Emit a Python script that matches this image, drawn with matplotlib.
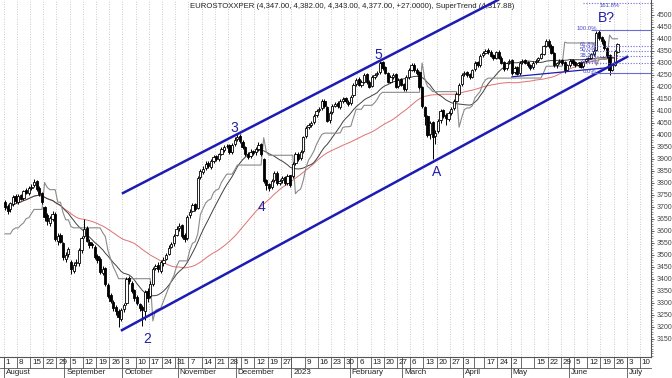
import numpy as np
import pandas as pd
import matplotlib
matplotlib.use("Agg")
import matplotlib.pyplot as plt
from matplotlib.transforms import blended_transform_factory

plt.rcParams["font.family"] = ["Liberation Sans", "DejaVu Sans"]

# daily OHLC, Aug 1 2022 .. Jun 27 2023 (one line per week)
opens = [
    3720, 3705, 3690, 3712, 3745, 3722, 3748, 3738, 3770, 3758,
    3778, 3790, 3808, 3780, 3758, 3700, 3665, 3635, 3650, 3672,
    3560, 3585, 3550, 3485, 3505, 3470, 3435, 3465, 3468, 3522,
    3580, 3612, 3555, 3545, 3535, 3495, 3485, 3425, 3445, 3375,
    3335, 3305, 3285, 3268, 3235, 3275, 3300, 3405, 3385, 3355,
    3325, 3295, 3285, 3265, 3350, 3330, 3378, 3445, 3458, 3435,
    3468, 3485, 3505, 3535, 3548, 3585, 3612, 3625, 3585, 3570,
    3665, 3685, 3712, 3695, 3825, 3845, 3862, 3885, 3868, 3892,
    3912, 3898, 3922, 3938, 3952, 3958, 3928, 3962, 3982, 3995,
    3972, 3948, 3922, 3912, 3932, 3928, 3942, 3962, 3900, 3812,
    3795, 3782, 3812, 3842, 3798, 3812, 3825, 3798, 3832,
    3830, 3882, 3922, 3902, 3932, 3995, 4032, 4042, 4052, 4082,
    4102, 4112, 4142, 4118, 4062, 4095, 4122, 4132, 4118, 4142,
    4152, 4138, 4132, 4165, 4212, 4232, 4208, 4222, 4252, 4222,
    4205, 4242, 4252, 4262, 4302, 4282, 4258, 4222, 4242, 4252,
    4202, 4232, 4212, 4192, 4242, 4272, 4292, 4272, 4262, 4200,
    4115, 4078, 4005, 4052, 3995, 4015, 4062, 4102, 4082, 4068,
    4092, 4112, 4142, 4172, 4212, 4252, 4262, 4252, 4242,
    4275, 4302, 4292, 4332, 4342, 4352, 4347, 4332, 4322,
    4347, 4322, 4302, 4277, 4302, 4312, 4262, 4282, 4257,
    4302, 4312, 4302, 4292, 4282, 4302, 4312, 4322, 4337, 4372,
    4392, 4372, 4342, 4292, 4302, 4312, 4302, 4272, 4292, 4312,
    4302, 4292, 4302, 4287, 4307, 4317, 4322, 4337, 4352, 4428,
    4408, 4392, 4362, 4332, 4272, 4292, 4347,
]
highs = [
    3728, 3712, 3722, 3750, 3752, 3752, 3755, 3772, 3778, 3788,
    3795, 3815, 3812, 3788, 3762, 3705, 3675, 3662, 3685, 3680,
    3592, 3590, 3556, 3512, 3535, 3478, 3470, 3482, 3528, 3578,
    3648, 3620, 3568, 3555, 3540, 3505, 3490, 3452, 3450, 3382,
    3342, 3312, 3292, 3275, 3280, 3300, 3410, 3412, 3392, 3360,
    3332, 3302, 3292, 3352, 3362, 3392, 3448, 3462, 3470, 3478,
    3492, 3508, 3540, 3552, 3588, 3620, 3632, 3630, 3590, 3668,
    3690, 3718, 3718, 3830, 3858, 3872, 3890, 3892, 3898, 3918,
    3918, 3925, 3948, 3958, 3962, 3962, 3968, 3990, 4005, 4002,
    3978, 3952, 3928, 3940, 3938, 3948, 3972, 3968, 3905, 3815,
    3800, 3818, 3850, 3848, 3818, 3830, 3828, 3838, 3835,
    3888, 3928, 3930, 3938, 3995, 4038, 4050, 4058, 4088, 4108,
    4118, 4148, 4150, 4122, 4098, 4128, 4138, 4140, 4148, 4158,
    4160, 4145, 4168, 4218, 4238, 4240, 4228, 4258, 4256, 4228,
    4248, 4258, 4268, 4308, 4308, 4288, 4262, 4248, 4258, 4256,
    4238, 4238, 4218, 4248, 4278, 4298, 4298, 4278, 4266, 4205,
    4122, 4085, 4060, 4058, 4020, 4068, 4108, 4108, 4090, 4098,
    4118, 4148, 4178, 4218, 4258, 4266, 4268, 4258, 4276,
    4306, 4308, 4338, 4348, 4358, 4362, 4352, 4338, 4350,
    4352, 4328, 4308, 4305, 4318, 4315, 4286, 4288, 4306,
    4318, 4318, 4308, 4296, 4306, 4316, 4326, 4340, 4376, 4398,
    4400, 4378, 4346, 4305, 4316, 4318, 4306, 4295, 4316, 4318,
    4306, 4305, 4306, 4310, 4320, 4326, 4340, 4356, 4432, 4438,
    4412, 4398, 4366, 4336, 4296, 4355, 4382,
]
lows = [
    3688, 3672, 3680, 3705, 3715, 3712, 3728, 3730, 3752, 3750,
    3770, 3782, 3768, 3745, 3712, 3640, 3625, 3622, 3640, 3560,
    3542, 3548, 3478, 3470, 3492, 3420, 3425, 3452, 3455, 3510,
    3572, 3552, 3530, 3528, 3482, 3465, 3420, 3418, 3372, 3322,
    3298, 3268, 3250, 3200, 3225, 3262, 3292, 3380, 3340, 3310,
    3292, 3268, 3205, 3230, 3305, 3322, 3370, 3438, 3430, 3425,
    3455, 3478, 3498, 3528, 3538, 3578, 3600, 3572, 3555, 3562,
    3655, 3678, 3682, 3690, 3815, 3838, 3855, 3862, 3860, 3885,
    3892, 3890, 3915, 3930, 3945, 3922, 3920, 3955, 3975, 3968,
    3942, 3912, 3900, 3905, 3918, 3918, 3935, 3912, 3800, 3770,
    3765, 3775, 3805, 3792, 3790, 3800, 3792, 3792, 3785,
    3822, 3875, 3892, 3895, 3925, 3988, 4025, 4035, 4045, 4075,
    4095, 4105, 4112, 4055, 4050, 4088, 4115, 4112, 4110, 4135,
    4132, 4122, 4125, 4160, 4205, 4202, 4200, 4215, 4212, 4195,
    4198, 4235, 4245, 4255, 4272, 4252, 4215, 4215, 4235, 4195,
    4195, 4205, 4185, 4185, 4235, 4265, 4262, 4250, 4192, 4112,
    4040, 3990, 3985, 3900, 3962, 4008, 4050, 4072, 4040, 4060,
    4085, 4105, 4138, 4165, 4205, 4245, 4242, 4232, 4236,
    4268, 4282, 4285, 4326, 4336, 4338, 4324, 4312, 4316,
    4315, 4295, 4268, 4270, 4295, 4248, 4255, 4250, 4250,
    4296, 4294, 4285, 4272, 4275, 4295, 4305, 4316, 4332, 4365,
    4362, 4335, 4282, 4280, 4295, 4290, 4258, 4265, 4285, 4292,
    4282, 4286, 4280, 4280, 4300, 4310, 4315, 4330, 4348, 4396,
    4380, 4352, 4322, 4250, 4265, 4288, 4343,
]
closes = [
    3700, 3685, 3715, 3740, 3725, 3745, 3735, 3765, 3760, 3780,
    3785, 3805, 3775, 3755, 3720, 3660, 3640, 3655, 3670, 3565,
    3580, 3555, 3490, 3500, 3525, 3440, 3460, 3470, 3520, 3570,
    3610, 3560, 3540, 3540, 3490, 3480, 3430, 3440, 3380, 3330,
    3310, 3280, 3265, 3240, 3270, 3290, 3400, 3390, 3350, 3320,
    3300, 3280, 3270, 3345, 3320, 3380, 3440, 3455, 3440, 3470,
    3480, 3500, 3530, 3545, 3580, 3610, 3620, 3580, 3565, 3660,
    3680, 3710, 3690, 3820, 3850, 3860, 3880, 3870, 3890, 3910,
    3900, 3920, 3940, 3950, 3955, 3930, 3960, 3980, 3990, 3975,
    3950, 3920, 3910, 3930, 3925, 3940, 3960, 3920, 3810, 3790,
    3780, 3810, 3840, 3800, 3810, 3820, 3800, 3830, 3790,
    3880, 3920, 3900, 3930, 3990, 4030, 4040, 4050, 4080, 4100,
    4110, 4140, 4120, 4060, 4090, 4120, 4130, 4120, 4140, 4150,
    4140, 4130, 4160, 4210, 4230, 4210, 4220, 4250, 4220, 4200,
    4240, 4250, 4260, 4300, 4280, 4260, 4220, 4240, 4250, 4200,
    4230, 4210, 4190, 4240, 4270, 4290, 4270, 4260, 4200, 4120,
    4080, 4000, 4050, 3990, 4010, 4060, 4100, 4080, 4070, 4090,
    4110, 4140, 4170, 4210, 4250, 4260, 4250, 4240, 4270,
    4300, 4290, 4330, 4340, 4350, 4345, 4330, 4320, 4345,
    4320, 4300, 4275, 4300, 4310, 4260, 4280, 4255, 4300,
    4310, 4300, 4290, 4280, 4300, 4310, 4320, 4335, 4370, 4390,
    4370, 4340, 4290, 4300, 4310, 4300, 4270, 4290, 4310, 4300,
    4290, 4300, 4285, 4305, 4315, 4320, 4335, 4350, 4425, 4405,
    4390, 4360, 4330, 4270, 4290, 4350, 4377,
]

holidays = ["2022-12-26", "2023-04-07", "2023-04-10", "2023-05-01"]
hidden_week_labels = ["2023-01-02", "2023-04-11", "2023-05-08"]
month_names = ["August", "September", "October", "November", "December", "2023",
               "February", "March", "April", "May", "June", "July"]

# channel lines and labels (index, price)
upper_chan = ([44.7, 186.7], [3758, 4562])
lower_chan = ([44.3, 235.6], [3187, 4325])
small_line = ([192, 227.3], [4242, 4279])
waves = [("2", 53.8, 3150), ("3", 86.7, 4029), ("4", 97.3, 3700),
         ("5", 141.3, 4333), ("A", 163.6, 3846), ("B?", 227.7, 4487)]

# trading calendar
days = pd.bdate_range("2022-08-01", "2023-07-14")
days = days[~days.isin(pd.to_datetime(holidays))]
n = len(closes)
x = np.arange(n)

df = pd.DataFrame({"o": opens, "h": highs, "l": lows, "c": closes})
sma20 = df.c.rolling(20, min_periods=1).mean()
sma50 = df.c.rolling(50, min_periods=1).mean()

# SuperTrend (10, 3)
tr = pd.concat([df.h - df.l, (df.h - df.c.shift()).abs(), (df.l - df.c.shift()).abs()], axis=1).max(axis=1)
atr = tr.ewm(alpha=1 / 10, adjust=False).mean()
hl2 = (df.h + df.l) / 2
ub = (hl2 + 3 * atr).values
lb = (hl2 - 3 * atr).values
fu, fl = ub.copy(), lb.copy()
st = np.zeros(n)
trend = 1
for i in range(n):
    if i > 0:
        fu[i] = ub[i] if (ub[i] < fu[i - 1] or closes[i - 1] > fu[i - 1]) else fu[i - 1]
        fl[i] = lb[i] if (lb[i] > fl[i - 1] or closes[i - 1] < fl[i - 1]) else fl[i - 1]
        if trend == 1 and closes[i] < fl[i]:
            trend = -1
        elif trend == -1 and closes[i] > fu[i]:
            trend = 1
    st[i] = fl[i] if trend == 1 else fu[i]

fig = plt.figure(figsize=(6.72, 3.78), dpi=100)
ax = fig.add_axes([0, 1 - 357 / 378, 651 / 672, 357 / 378])
x0, x1 = -1.9, 244.7
y0, y1 = 3075, 4562
ax.set_xlim(x0, x1)
ax.set_ylim(y0, y1)

# week positions
s = pd.Series(np.arange(len(days)), index=days)
week_start = s.groupby(days.to_period("W")).min()
month_start = s.groupby(days.to_period("M")).min()
week_dates = days[week_start.values]

ax.vlines(week_start.values - 0.5, y0, y1, colors="#b8b8b8", linestyles=(0, (1, 2)), lw=0.6, zorder=0)

# indicators
ax.plot(x, sma50, color="#e07070", lw=0.7, zorder=2)
ax.plot(x, sma20, color="#404040", lw=0.7, zorder=2)
ax.plot(x, st, color="#8a8a8a", lw=0.8, zorder=2)

# candles
o = np.array(opens); c = np.array(closes)
ax.vlines(x, lows, highs, colors="black", lw=0.7, zorder=3)
body = np.maximum(np.abs(c - o), 2)
cols = np.where(c >= o, "white", "black")
ax.bar(x, body, bottom=np.minimum(o, c), width=0.85, color=cols, edgecolor="black", lw=0.6, zorder=4)

# channel
ax.plot(*upper_chan, color="#1c1cb4", lw=1.8, zorder=5)
ax.plot(*lower_chan, color="#1c1cb4", lw=1.8, zorder=5)
ax.plot(*small_line, color="#1c1cb4", lw=0.9, zorder=5)
for t, xi, yi in waves:
    ax.text(xi, yi, t, color="#2020a8", fontsize=10, ha="center", va="center", zorder=6)

# fibonacci
fib_lo = lows[212]
fib_hi = max(highs[212:226])
for lev, lab in [(0, "0.0%"), (0.236, "23.6%"), (0.382, "38.2%"), (0.5, "50.0%"),
                 (0.618, "61.8%"), (1.0, "100.0%"), (1.618, "161.8%")]:
    v = fib_lo + lev * (fib_hi - fib_lo)
    solid = lev in (0, 1.0)
    ax.hlines(v, 219 if not solid else 222, x1, colors="#6a6ad8",
              linestyles="-" if solid else (0, (1, 1.5)), lw=0.8, zorder=5)
    tx = 233 if lev == 1.618 else 224.2
    ty = v - 9 if lev == 1.618 else v + 6
    ax.text(tx, ty, lab, color="#4848c8", fontsize=4.3, ha="right", va="center", zorder=6)

ax.text(190 / 651, 1 - 6 / 357,
        "EUROSTOXXPER (4,347.00, 4,382.00, 4,343.00, 4,377.00, +27.0000), SuperTrend (4,317.88)",
        transform=ax.transAxes, fontsize=5.6, va="center", ha="left", color="#222222")

# right axis
ax.yaxis.tick_right()
ax.set_yticks(np.arange(3150, 4501, 50))
ax.set_yticks(np.arange(3080, 4560, 10), minor=True)
ax.tick_params(axis="y", which="major", labelsize=5, length=2.5, width=0.6, colors="#444444", pad=1.5)
ax.tick_params(axis="y", which="minor", length=1.5, width=0.5, colors="#666666")
ax.set_xticks([])
for k in ["top", "left"]:
    ax.spines[k].set_visible(False)
ax.spines["right"].set_color("#555555")
ax.spines["bottom"].set_color("#555555")
ax.spines["right"].set_linewidth(0.8)
ax.spines["bottom"].set_linewidth(0.8)

# date axis
trans = blended_transform_factory(ax.transData, ax.transAxes)
r1 = -11 / 357
r2 = -21 / 357
ax.plot([x0, x1], [r1, r1], color="#555555", lw=0.6, transform=trans, clip_on=False)
hidden = pd.to_datetime(hidden_week_labels)
for wi, d in zip(week_start.values, week_dates):
    ax.plot([wi - 0.5, wi - 0.5], [0, r1], color="#555555", lw=0.6, transform=trans, clip_on=False)
    lab = "" if d in hidden else str(d.day)
    ax.text(wi + 0.2, r1 / 2, lab, fontsize=5.8, ha="left", va="center", transform=trans, color="#222222")
for mi, name in zip(month_start.values, month_names):
    ax.plot([mi - 0.5, mi - 0.5], [0, r2], color="#555555", lw=0.6, transform=trans, clip_on=False)
    ax.text(mi + 0.2, (r1 + r2) / 2, name, fontsize=5.8, ha="left", va="center", transform=trans, color="#222222")

fig.savefig("out.png", dpi=100, facecolor="white")
plt.close()
